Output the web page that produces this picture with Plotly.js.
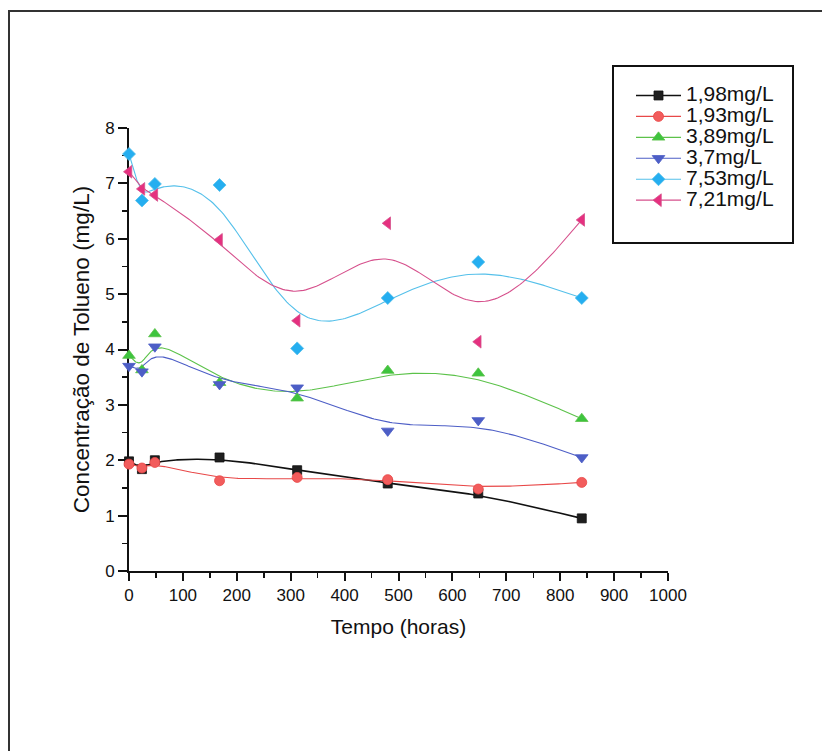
<!DOCTYPE html>
<html>
<head>
<meta charset="utf-8">
<script src="https://cdn.plot.ly/plotly-3.0.1.min.js"></script>
<style>html,body{margin:0;padding:0;background:#fff;}</style>
</head>
<body>
<div id="chart" style="width:822px;height:751px;"></div>
<script>
// ---- data ----
const hours = [0, 24, 48, 168, 312, 480, 648, 840];
const c198 = [1.98, 1.84, 2.00, 2.05, 1.82, 1.58, 1.40, 0.95];
const c193 = [1.93, 1.86, 1.96, 1.63, 1.69, 1.65, 1.48, 1.60];
const c389 = [3.89, 3.63, 4.28, 3.40, 3.12, 3.62, 3.57, 2.75];
const c37  = [3.70, 3.60, 4.05, 3.37, 3.31, 2.53, 2.72, 2.05];
const c753 = [7.53, 6.69, 6.99, 6.97, 4.02, 4.93, 5.58, 4.93];
const c721 = [7.21, 6.90, 6.79, 5.98, 4.52, 6.28, 4.14, 6.34];
const seriesNames = ['1,98mg/L', '1,93mg/L', '3,89mg/L', '3,7mg/L', '7,53mg/L', '7,21mg/L'];
const xTickVals = [0, 100, 200, 300, 400, 500, 600, 700, 800, 900, 1000];
const yTickVals = [0, 1, 2, 3, 4, 5, 6, 7, 8];

// ---- styles ----
const seriesData = [c198, c193, c389, c37, c753, c721];
const markerSymbols = ['square', 'circle', 'triangle-up', 'triangle-down', 'diamond', 'triangle-left'];
const markerColors = ['#1e1e1e', '#f25c5c', '#3ec43e', '#4d5ec6', '#25aef0', '#e5307f'];
const lineColors = ['#111111', '#e84848', '#5cc24a', '#4d5ec6', '#55c0ea', '#d6508c'];
const lineWidths = [1.6, 1.1, 1.1, 1.1, 1.1, 1.1];
const markerSizes = [9, 10, 11, 11, 10, 11];

// uniform cubic B-spline using the data points as control points, with reflected
// end points so the curve starts/ends on the first/last point (Origin "B-Spline" connector)
function bspline(xs, ys, perSeg) {
  const n = xs.length;
  const qx = [2 * xs[0] - xs[1]].concat(xs, [2 * xs[n - 1] - xs[n - 2]]);
  const qy = [2 * ys[0] - ys[1]].concat(ys, [2 * ys[n - 1] - ys[n - 2]]);
  const ox = [], oy = [];
  for (let i = 1; i < n; i++) {
    for (let s = 0; s <= perSeg; s++) {
      if (i > 1 && s === 0) continue;
      const t = s / perSeg, t2 = t * t, t3 = t2 * t;
      const b0 = (1 - t) * (1 - t) * (1 - t) / 6;
      const b1 = (3 * t3 - 6 * t2 + 4) / 6;
      const b2 = (-3 * t3 + 3 * t2 + 3 * t + 1) / 6;
      const b3 = t3 / 6;
      ox.push(b0 * qx[i - 1] + b1 * qx[i] + b2 * qx[i + 1] + b3 * qx[i + 2]);
      oy.push(b0 * qy[i - 1] + b1 * qy[i] + b2 * qy[i + 1] + b3 * qy[i + 2]);
    }
  }
  return {x: ox, y: oy};
}

function withGaps(arr) {
  const out = [];
  arr.forEach((v, i) => { out.push(v); if (i < arr.length - 1) out.push(null); });
  return out;
}

const FONT = 'Liberation Sans, Arial, Helvetica, sans-serif';
const INK = '#111111';
const traces = [];
seriesData.forEach((ys, k) => {
  const c = bspline(hours, ys, 40);
  traces.push({
    x: c.x, y: c.y, mode: 'lines', type: 'scatter', showlegend: false, hoverinfo: 'skip',
    line: {color: lineColors[k], width: lineWidths[k]}, cliponaxis: false
  });
});
seriesData.forEach((ys, k) => {
  traces.push({
    x: withGaps(hours), y: withGaps(ys), mode: 'lines+markers', type: 'scatter',
    connectgaps: false,
    name: '<span style="font-size:21px">' + seriesNames[k] + '</span>',
    line: {color: lineColors[k], width: lineWidths[k]},
    marker: {symbol: markerSymbols[k], size: markerSizes[k], color: markerColors[k],
             line: {color: lineColors[k], width: 0.8}},
    cliponaxis: false
  });
});

// pixel helpers for decoration placement
const L = 129, R = 154, T = 128, B = 180, W = 822, H = 751;
const pw = W - L - R, ph = H - T - B;
const px = v => (v - L) / pw;
const py = v => (H - B - v) / ph;

const layout = {
  width: W, height: H,
  margin: {l: L, r: R, t: T, b: B, pad: 0},
  paper_bgcolor: '#ffffff', plot_bgcolor: '#ffffff',
  font: {family: FONT, color: INK},
  showlegend: true,
  legend: {
    x: px(631), y: py(80), xanchor: 'left', yanchor: 'top',
    bgcolor: 'rgba(0,0,0,0)', borderwidth: 0, itemwidth: 45,
    font: {family: FONT, size: 13.8, color: INK}
  },
  xaxis: {
    range: [0, 1000], tickvals: xTickVals, ticktext: xTickVals.map(String),
    showgrid: false, zeroline: false, showline: true, linecolor: INK, linewidth: 2,
    ticks: 'outside', ticklen: 8, tickwidth: 2, tickcolor: INK,
    minor: {dtick: 50, ticks: 'outside', ticklen: 5, tickwidth: 1.5, tickcolor: INK, showgrid: false},
    tickfont: {family: FONT, size: 17, color: INK},
    title: {text: 'Tempo (horas)', font: {family: FONT, size: 21, color: INK}, standoff: 15},
    layer: 'below traces'
  },
  yaxis: {
    range: [0, 8], tickvals: yTickVals, ticktext: yTickVals.map(String),
    showgrid: false, zeroline: false, showline: true, linecolor: INK, linewidth: 2,
    ticks: 'outside', ticklen: 9, tickwidth: 2, tickcolor: INK,
    minor: {dtick: 0.5, ticks: 'outside', ticklen: 5, tickwidth: 1.5, tickcolor: INK, showgrid: false},
    tickfont: {family: FONT, size: 17, color: INK},
    title: {text: 'Concentração de Tolueno (mg/L)', font: {family: FONT, size: 22.5, color: INK}, standoff: 9},
    layer: 'below traces'
  },
  shapes: [
    {type: 'rect', xref: 'paper', yref: 'paper', x0: px(613), x1: px(793), y0: py(66), y1: py(243),
     line: {color: INK, width: 2}, fillcolor: 'rgba(0,0,0,0)'},
    {type: 'rect', xref: 'paper', yref: 'paper', x0: px(9), x1: px(840), y0: py(11), y1: py(770),
     line: {color: '#333333', width: 2}, fillcolor: 'rgba(0,0,0,0)'}
  ]
};

Plotly.newPlot('chart', traces, layout, {displayModeBar: false, responsive: false, staticPlot: true});
</script>
</body>
</html>
